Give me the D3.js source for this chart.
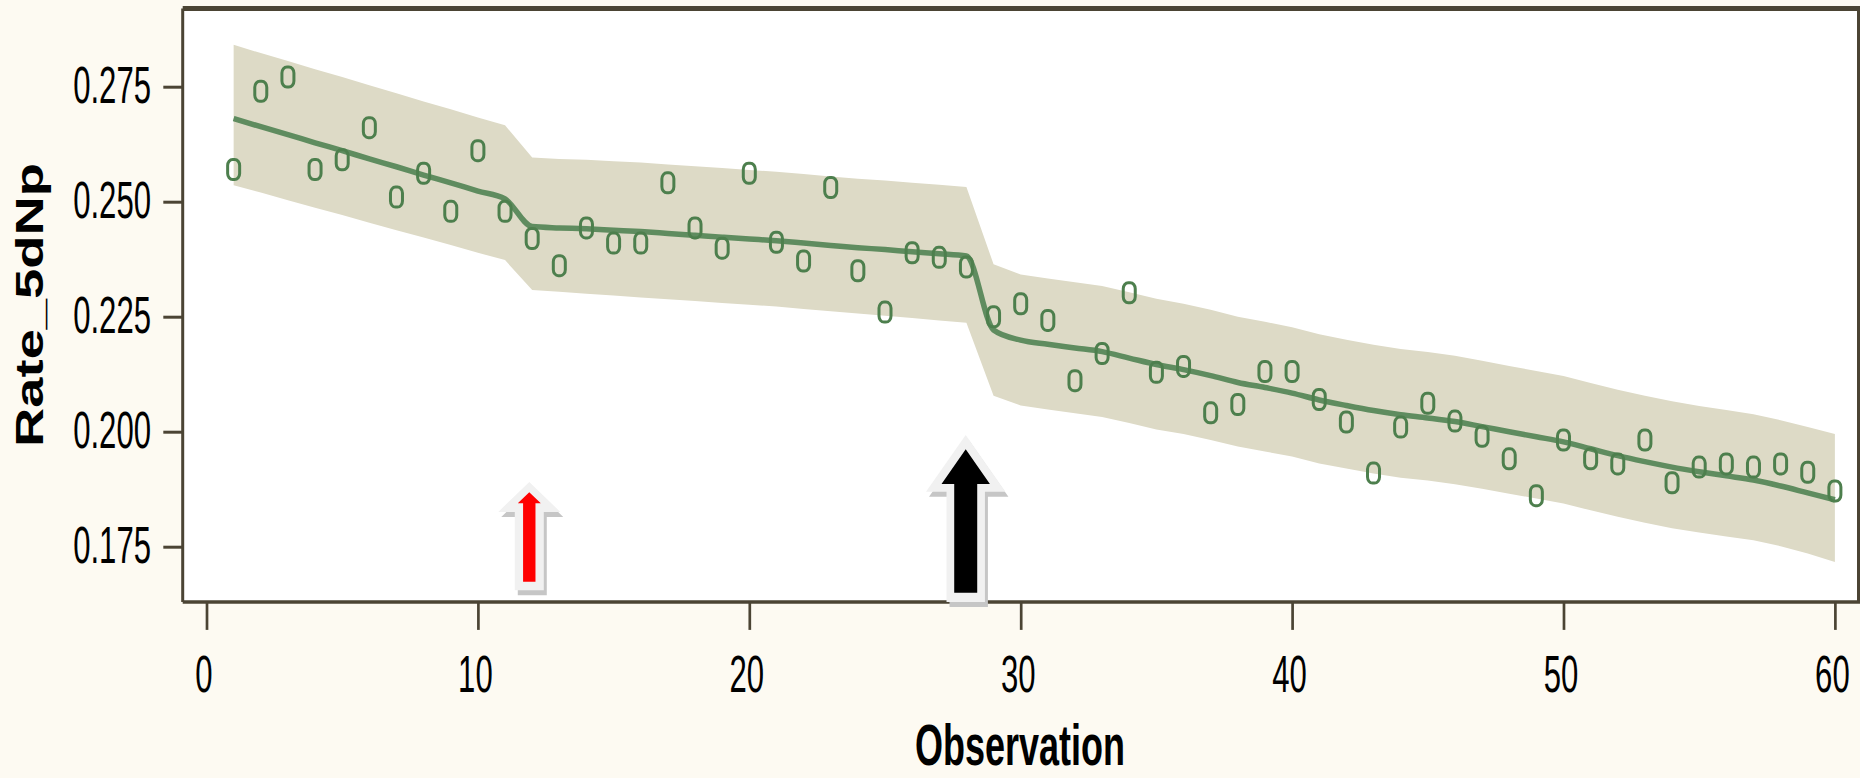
<!DOCTYPE html>
<html>
<head>
<meta charset="utf-8">
<script src="https://cdn.jsdelivr.net/npm/d3@7"></script>
<style>
  body { margin: 0; background: #fdfaf2; }
  svg { display: block; }
</style>
</head>
<body>
<svg class="chart"></svg>
<script>
// observation numbers 1..60
var observations = [1,2,3,4,5,6,7,8,9,10,11,12,13,14,15,16,17,18,19,20,
  21,22,23,24,25,26,27,28,29,30,31,32,33,34,35,36,37,38,39,40,
  41,42,43,44,45,46,47,48,49,50,51,52,53,54,55,56,57,58,59,60];

// observed Rate_5dNp
var rateValues = [0.2570,0.2740,0.2771,0.2570,0.2591,0.2661,0.2510,0.2562,0.2479,0.2611,
  0.2479,0.2420,0.2361,0.2443,0.2410,0.2410,0.2541,0.2443,0.2399,0.2562,
  0.2412,0.2371,0.2531,0.2350,0.2260,0.2389,0.2379,0.2358,0.2250,0.2278,
  0.2242,0.2111,0.2170,0.2302,0.2129,0.2142,0.2041,0.2059,0.2131,0.2131,
  0.2070,0.2021,0.1910,0.2010,0.2062,0.2023,0.1990,0.1941,0.1861,0.1982,
  0.1941,0.1930,0.1982,0.1889,0.1923,0.1930,0.1923,0.1930,0.1912,0.1871];

// fitted curve
var fitValues = [0.2681,0.2663,0.2646,0.2628,0.2611,0.2593,0.2576,0.2558,0.2541,0.2523,
  0.2506,0.2446,0.2443,0.2441,0.2438,0.2435,0.2431,0.2427,0.2423,0.2419,
  0.2415,0.2410,0.2405,0.2400,0.2396,0.2391,0.2387,0.2382,0.2221,0.2199,
  0.2190,0.2182,0.2174,0.2160,0.2146,0.2135,0.2122,0.2107,0.2096,0.2084,
  0.2069,0.2057,0.2046,0.2037,0.2030,0.2022,0.2011,0.2000,0.1989,0.1978,
  0.1963,0.1948,0.1935,0.1923,0.1913,0.1904,0.1895,0.1882,0.1867,0.1852];

// band limits
var bandUpper = [0.2841,0.2823,0.2806,0.2788,0.2771,0.2753,0.2736,0.2718,0.2701,0.2683,
  0.2666,0.2596,0.2593,0.2591,0.2588,0.2585,0.2581,0.2577,0.2573,0.2569,
  0.2565,0.2560,0.2555,0.2550,0.2546,0.2541,0.2537,0.2532,0.2364,0.2342,
  0.2333,0.2325,0.2317,0.2303,0.2289,0.2278,0.2265,0.2250,0.2239,0.2227,
  0.2212,0.2200,0.2189,0.2180,0.2173,0.2165,0.2154,0.2143,0.2132,0.2121,
  0.2106,0.2091,0.2078,0.2066,0.2056,0.2047,0.2038,0.2025,0.2010,0.1995];

var bandLower = [0.2536,0.2520,0.2503,0.2487,0.2471,0.2454,0.2438,0.2422,0.2406,0.2389,
  0.2373,0.2308,0.2304,0.2300,0.2296,0.2292,0.2288,0.2284,0.2280,0.2276,
  0.2272,0.2267,0.2262,0.2257,0.2252,0.2247,0.2242,0.2237,0.2078,0.2057,
  0.2048,0.2040,0.2032,0.2019,0.2005,0.1995,0.1982,0.1968,0.1957,0.1946,
  0.1931,0.1920,0.1909,0.1900,0.1894,0.1886,0.1876,0.1865,0.1855,0.1844,
  0.1829,0.1815,0.1802,0.1790,0.1781,0.1772,0.1764,0.1751,0.1735,0.1717];

var xTicks = [0, 10, 20, 30, 40, 50, 60];
var yTicks = [0.175, 0.200, 0.225, 0.250, 0.275];

// observations pointed at by the arrows
var markedObs = [12, 28];

var data = observations.map(function(d, i){
    return {obs: d, value: rateValues[i], fit: fitValues[i], hi: bandUpper[i], lo: bandLower[i]};
});

//set up chart
var width = 1860;
var height = 778;
var plot = {left: 182.7, right: 1858.5, top: 8.5, bottom: 601.9};
var frameColor = "#4b4434";
var font = "'Liberation Sans', Arial, sans-serif";

var svg = d3.select(".chart")
    .attr("width", width)
    .attr("height", height);

var xChart = d3.scaleLinear()
    .domain([-0.877, 60.87])
    .range([plot.left, plot.right]);

var yChart = d3.scaleLinear()
    .domain([0.163, 0.292])
    .range([plot.bottom, plot.top]);

//plot background
svg.append("rect")
    .attr("x", plot.left)
    .attr("y", plot.top)
    .attr("width", plot.right - plot.left)
    .attr("height", plot.bottom - plot.top)
    .attr("fill", "#ffffff");

//confidence band
var band = d3.area()
    .x(function(d){ return xChart(d.obs); })
    .y0(function(d){ return yChart(d.lo); })
    .y1(function(d){ return yChart(d.hi); });

svg.append("path")
    .datum(data)
    .attr("d", band)
    .attr("fill", "#dddac6");

//fitted line
var fitLine = d3.line()
    .x(function(d){ return xChart(d.obs); })
    .y(function(d){ return yChart(d.fit); })
    .curve(d3.curveMonotoneX);

svg.append("path")
    .datum(data)
    .attr("d", fitLine)
    .attr("fill", "none")
    .attr("stroke", "#5f8c5f")
    .attr("stroke-width", 5.5);

//observed points
svg.selectAll(".pt")
    .data(data)
    .enter()
    .append("rect")
    .attr("class", "pt")
    .attr("x", function(d){ return xChart(d.obs) - 6; })
    .attr("y", function(d){ return yChart(d.value) - 10; })
    .attr("width", 12)
    .attr("height", 20)
    .attr("rx", 5)
    .attr("ry", 6)
    .attr("fill", "none")
    .attr("stroke", "#4d7f4d")
    .attr("stroke-width", 3);

//frame
var frame = svg.append("g").attr("stroke", frameColor);
frame.append("line").attr("x1", plot.left).attr("x2", plot.right + 1.5)
    .attr("y1", plot.top).attr("y2", plot.top).attr("stroke-width", 5);
frame.append("line").attr("x1", plot.left).attr("x2", plot.right + 1.5)
    .attr("y1", plot.bottom).attr("y2", plot.bottom).attr("stroke-width", 3.5);
frame.append("line").attr("x1", plot.left).attr("x2", plot.left)
    .attr("y1", plot.top).attr("y2", plot.bottom).attr("stroke-width", 3);
frame.append("line").attr("x1", plot.right).attr("x2", plot.right)
    .attr("y1", plot.top).attr("y2", plot.bottom).attr("stroke-width", 3);

//left axis
var yAxis = d3.axisLeft(yChart)
    .tickValues(yTicks)
    .tickSize(19.4)
    .tickFormat(d3.format(".3f"));

var yG = svg.append("g")
    .attr("transform", "translate(" + plot.left + ",0)")
    .call(yAxis);
yG.select(".domain").remove();
yG.selectAll("line").attr("stroke", frameColor).attr("stroke-width", 3);
yG.selectAll("text")
    .attr("x", null)
    .attr("dy", null)
    .attr("fill", "#000")
    .attr("transform", "translate(-31.7,16) scale(0.61,1)")
    .style("font-family", font)
    .style("font-size", "51px");

//bottom axis
var xAxis = d3.axisBottom(xChart)
    .tickValues(xTicks)
    .tickSize(28);

var xG = svg.append("g")
    .attr("transform", "translate(0," + plot.bottom + ")")
    .call(xAxis);
xG.select(".domain").remove();
xG.selectAll("line").attr("stroke", frameColor).attr("stroke-width", 2.7);
xG.selectAll("text")
    .attr("y", null)
    .attr("dy", null)
    .attr("fill", "#000")
    .attr("transform", "translate(-3,90) scale(0.61,1)")
    .style("font-family", font)
    .style("font-size", "51px");

//arrows
function arrowPath(cx, tip, bottom, headHalf, headH, shaftHalf){
    var b = tip + headH;
    return "M" + cx + "," + tip +
        "L" + (cx + headHalf) + "," + b +
        "L" + (cx + shaftHalf) + "," + b +
        "L" + (cx + shaftHalf) + "," + bottom +
        "L" + (cx - shaftHalf) + "," + bottom +
        "L" + (cx - shaftHalf) + "," + b +
        "L" + (cx - headHalf) + "," + b + "Z";
}

var arrowSpecs = [
    {outer: [120, 11.7, 31, 30, 14.5], inner: [109.6, 20.2, 11.5, 11, 6.2], color: "#ff0000", dx: -2.9},
    {outer: [166.9, 0, 39.7, 56.7, 19.2], inner: [152.6, 9.2, 24.2, 34.7, 11.5], color: "#000000", dx: -0.7}
];

markedObs.forEach(function(obs, i){
    var s = arrowSpecs[i];
    var cx = xChart(obs) + s.dx;
    var o = s.outer, n = s.inner;
    var outerD = arrowPath(cx, plot.bottom - o[0], plot.bottom - o[1], o[2], o[3], o[4]);
    svg.append("path").attr("d", outerD).attr("fill", "#c6c6c6")
        .attr("transform", "translate(3,5)");
    svg.append("path").attr("d", outerD).attr("fill", "#f1f1f1");
    svg.append("path")
        .attr("d", arrowPath(cx, plot.bottom - n[0], plot.bottom - n[1], n[2], n[3], n[4]))
        .attr("fill", s.color);
});

//add labels
svg.append("text")
    .attr("transform", "translate(43,305) rotate(-90) scale(1.43,1)")
    .attr("text-anchor", "middle")
    .style("font-family", font)
    .style("font-weight", "bold")
    .style("font-size", "38px")
    .text("Rate_5dNp");

svg.append("text")
    .attr("transform", "translate(1020,765) scale(0.9,1.45)")
    .attr("text-anchor", "middle")
    .style("font-family", font)
    .style("font-weight", "bold")
    .style("font-size", "40px")
    .text("Observation");
</script>
</body>
</html>
